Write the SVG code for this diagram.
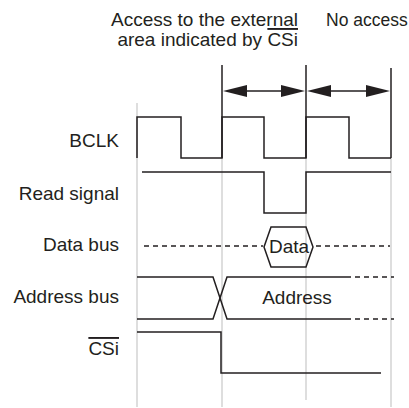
<svg xmlns="http://www.w3.org/2000/svg" width="409" height="408" viewBox="0 0 409 408">
<style>
.t{font-family:"Liberation Sans",Arial,sans-serif;font-size:19px;fill:#231f20}
.g{stroke:#c8c8c8;stroke-width:1.2;fill:none}
.w{stroke:#231f20;stroke-width:1.5;fill:none}
.d{stroke:#231f20;stroke-width:1.3;fill:none;stroke-dasharray:5 4}
.ah{fill:#231f20}
</style>
<rect width="409" height="408" fill="#fff"/>
<g id="title">
<text class="t" x="298" y="26" text-anchor="end">Access to the external</text>
<text class="t" x="298" y="46" text-anchor="end">area indicated by <tspan text-decoration="overline">CSi</tspan></text>
<text class="t" x="326" y="26" style="font-size:17.5px">No access</text>
</g>
<g id="gridlines">
<line class="g" x1="137" y1="103" x2="137" y2="407"/>
<line class="g" x1="222" y1="158" x2="222" y2="407"/>
<line class="g" x1="306" y1="158" x2="306" y2="400"/>
<line class="g" x1="391" y1="158" x2="391" y2="407"/>
</g>
<g id="connectors">
<line class="w" x1="222" y1="65" x2="222" y2="158"/>
<line class="w" x1="306" y1="65" x2="306" y2="158"/>
<line class="w" x1="391" y1="68" x2="391" y2="158"/>
<line class="w" x1="240" y1="91" x2="290" y2="91"/>
<polygon class="ah" points="223,91 247,85 247,97"/>
<polygon class="ah" points="305,91 281,85 281,97"/>
<line class="w" x1="325" y1="91" x2="375" y2="91"/>
<polygon class="ah" points="307,91 331,85 331,97"/>
<polygon class="ah" points="390,91 366,85 366,97"/>
</g>
<g id="bclk">
<text class="t" x="119" y="147" text-anchor="end">BCLK</text>
<polyline class="w" points="137,158 137,117 181,117 181,158 222,158 222,117 264,117 264,158 306,158 306,117 349,117 349,158 391,158"/>
</g>
<g id="read">
<text class="t" x="119" y="200" text-anchor="end">Read signal</text>
<polyline class="w" points="142,172 264,172 264,213 306,213 306,172 391,172"/>
</g>
<g id="data">
<text class="t" x="119" y="251" text-anchor="end">Data bus</text>
<line class="d" x1="144" y1="246" x2="263" y2="246"/>
<polygon class="w" points="264,247 271,227 306,227 313,247 306,267 271,267"/>
<text class="t" x="289" y="253" text-anchor="middle">Data</text>
<line class="d" x1="316" y1="246" x2="390" y2="246"/>
</g>
<g id="address">
<text class="t" x="119" y="303" text-anchor="end">Address bus</text>
<polyline class="w" points="137,277 213,277 227,319 351,319"/>
<polyline class="w" points="137,319 213,319 227,277 351,277"/>
<line class="d" x1="355" y1="277" x2="394" y2="277"/>
<line class="d" x1="355" y1="319" x2="394" y2="319"/>
<text class="t" x="297" y="304" text-anchor="middle">Address</text>
</g>
<g id="csi">
<text class="t" x="119" y="355" text-anchor="end"><tspan text-decoration="overline">CSi</tspan></text>
<polyline class="w" points="137,332 221,332 221,373 381,373"/>
</g>
</svg>
